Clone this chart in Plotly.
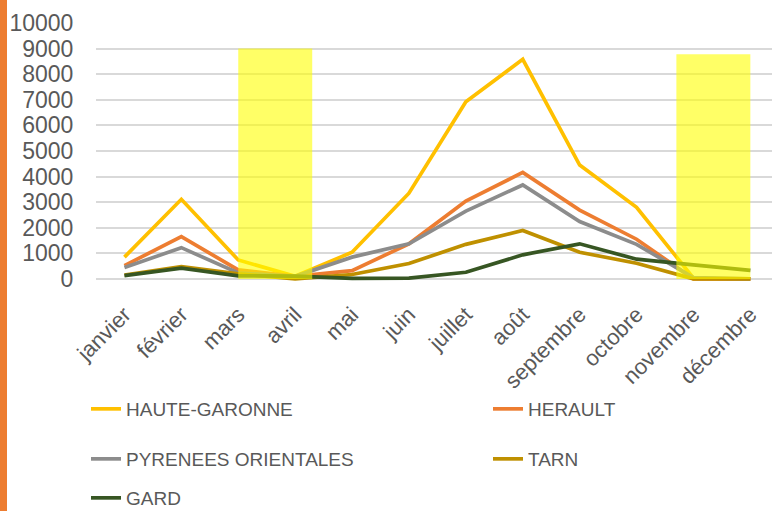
import plotly.graph_objects as go

months = ["janvier", "février", "mars", "avril", "mai", "juin", "juillet",
          "août", "septembre", "octobre", "novembre", "décembre"]

haute_garonne = [850, 3110, 740, 100, 1040, 3350, 6920, 8580, 4450, 2800, 30, 0]
herault = [520, 1650, 350, 100, 320, 1370, 3040, 4160, 2690, 1550, 0, 0]
pyrenees_orientales = [440, 1220, 230, 100, 850, 1370, 2650, 3670, 2240, 1350, 50, 0]
tarn = [150, 480, 200, 0, 170, 600, 1350, 1890, 1040, 610, 0, 0]
gard = [130, 420, 120, 110, 20, 30, 260, 940, 1370, 770, 550, 330]

y_tick_values = list(range(0, 10001, 1000))
y_tick_labels = [str(v) for v in y_tick_values]

series_names = ["HAUTE-GARONNE", "HERAULT", "PYRENEES ORIENTALES", "TARN", "GARD"]
series_values = [haute_garonne, herault, pyrenees_orientales, tarn, gard]
series_colors = ["#FFC000", "#ED7D31", "#8C8C8C", "#BF9000", "#375623"]

# highlighted periods (category index start/end, top value)
highlight_x0 = [2.0, 9.7]
highlight_x1 = [3.3, 11.0]
highlight_top = [9000, 8780]

W, H = 772, 511
ml, mr, mt, mb = 96, 0, 23, 227
pw = W - ml - mr
ph = H - mt - mb

def px_to_paper_x(px):
    return (px - ml) / pw

def px_to_paper_y(py):
    return (H - mb - py) / ph

legend_pos = [(86, 409), (488, 409), (86, 459), (488, 459), (86, 498)]

fig = go.Figure()
for i, (name, vals, col) in enumerate(zip(series_names, series_values, series_colors)):
    lg = "legend" if i == 0 else f"legend{i+1}"
    fig.add_trace(go.Scatter(
        x=list(range(len(months))), y=vals, mode="lines", name=name,
        line=dict(color=col, width=3.7), legend=lg, showlegend=True))

legend_font = dict(family="Liberation Sans, Arial, sans-serif", size=19, color="#595959")
for i, (lx, ly) in enumerate(legend_pos):
    key = "legend" if i == 0 else f"legend{i+1}"
    fig.update_layout(**{key: dict(
        x=px_to_paper_x(lx), y=px_to_paper_y(ly), xanchor="left", yanchor="middle",
        font=legend_font, bgcolor="rgba(0,0,0,0)", borderwidth=0, visible=True)})

shapes = []
for x0, x1, top in zip(highlight_x0, highlight_x1, highlight_top):
    shapes.append(dict(type="rect", xref="x", yref="y", x0=x0, x1=x1, y0=0, y1=top,
                       fillcolor="#FFFF00", opacity=0.6, line=dict(width=0), layer="above"))
# orange strip at the left edge
shapes.append(dict(type="rect", xref="paper", yref="paper",
                   x0=px_to_paper_x(0), x1=px_to_paper_x(7),
                   y0=px_to_paper_y(H), y1=px_to_paper_y(0),
                   fillcolor="#ED7D31", line=dict(width=0), layer="below"))

tick_font = dict(family="Liberation Sans, Arial, sans-serif", size=22, color="#595959")
ytick_font = dict(family="Liberation Sans, Arial, sans-serif", size=23, color="#595959")

fig.update_layout(
    width=W, height=H,
    margin=dict(l=ml, r=mr, t=mt, b=mb, autoexpand=False),
    paper_bgcolor="white", plot_bgcolor="white",
    showlegend=True,
    shapes=shapes,
    xaxis=dict(
        tickmode="array", tickvals=list(range(len(months))), ticktext=months,
        range=[-0.5, -0.5 + pw / 56.9], tickangle=-45, tickfont=tick_font,
        showgrid=False, zeroline=False, showline=False,
        ticks="outside", ticklen=8, tickcolor="rgba(0,0,0,0)", automargin=False),
    yaxis=dict(
        range=[-200, 10000], tickmode="array",
        tickvals=y_tick_values, ticktext=y_tick_labels,
        tickfont=ytick_font, showgrid=True, gridcolor="#D9D9D9", gridwidth=1.5,
        zeroline=False, showline=False, ticks="outside", ticklen=17,
        tickcolor="rgba(0,0,0,0)", automargin=False),
)

fig.write_html("out.html",
               config={"displayModeBar": False},
               post_script="document.body.style.margin='0';document.body.style.overflow='hidden';")
